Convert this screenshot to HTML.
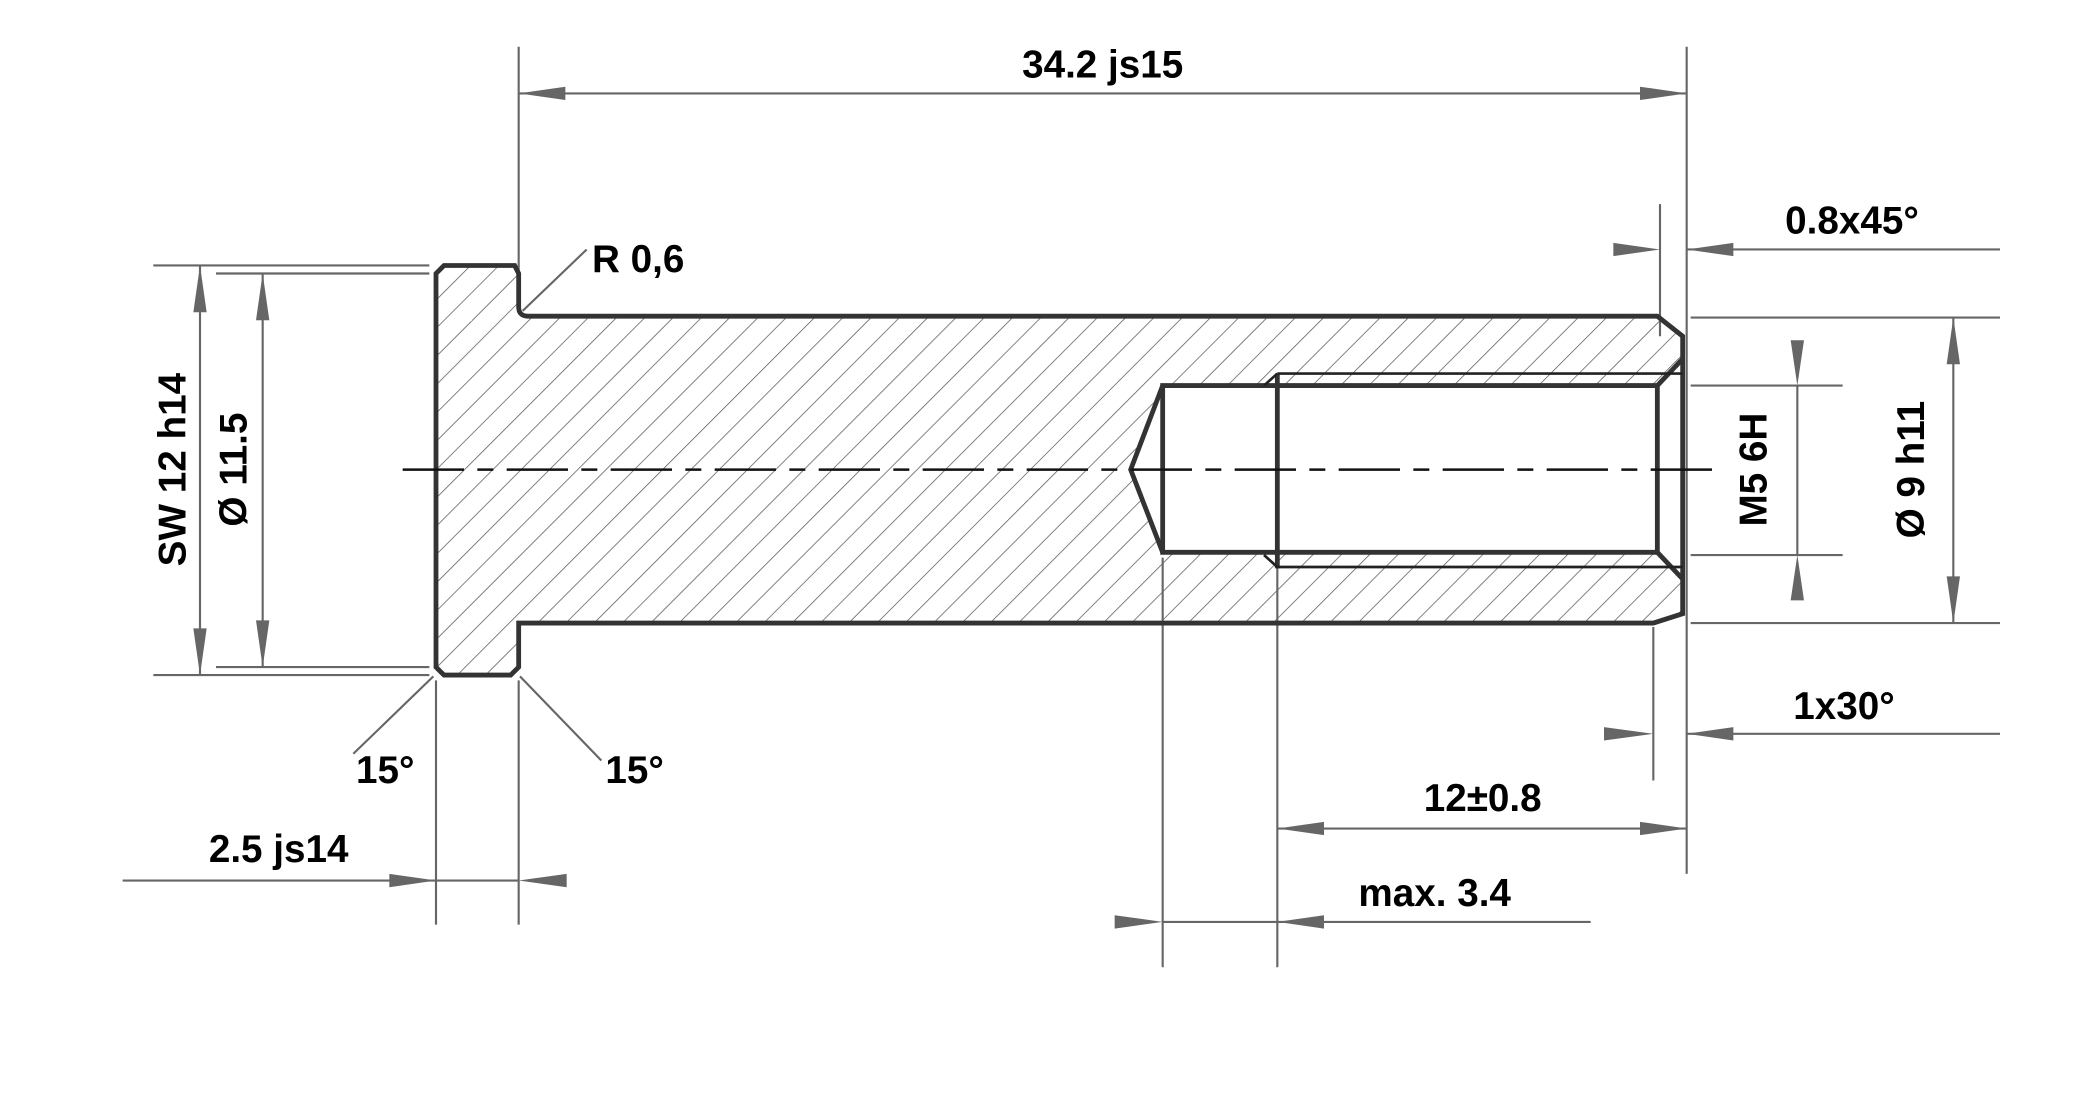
<!DOCTYPE html>
<html><head><meta charset="utf-8"><style>
html,body{margin:0;padding:0;background:#fff;}
svg{display:block;}
text{font-family:"Liberation Sans",Arial,sans-serif;font-weight:bold;font-size:29px;fill:#000;}
</style></head><body>
<svg width="2088" height="1094" viewBox="0 0 1566 820" preserveAspectRatio="none" xmlns="http://www.w3.org/2000/svg">
<defs>
<pattern id="h" patternUnits="userSpaceOnUse" width="15" height="15" patternTransform="rotate(45)">
<line x1="0" y1="0" x2="0" y2="15" stroke="#555" stroke-width="1.1"/>
</pattern>
<clipPath id="c"><path clip-rule="evenodd" d="M327,205 L333,199 L389,199 L389,230 Q389,237 396,237 L1243,237 L1262,252 L1262,460 L1240,467 L389,467 L389,500 L383,506 L333,506 L327,500 Z M872,289 L1243,289 L1262,270 L1262,436 L1243,414 L872,414 L848,352 Z"/></clipPath>
</defs>
<g clip-path="url(#c)"><rect x="300" y="190" width="1000" height="330" fill="url(#h)"/></g>

<g stroke="#666" stroke-width="1.6" fill="none">
<line x1="389" y1="35" x2="389" y2="230"/>
<line x1="1265" y1="35" x2="1265" y2="655"/>
<line x1="389" y1="70" x2="1265" y2="70"/>
<line x1="392" y1="233" x2="440" y2="187"/>
<line x1="1245" y1="153" x2="1245" y2="252"/>
<line x1="1265" y1="187" x2="1500" y2="187"/>
<line x1="1240" y1="470" x2="1240" y2="585"/>
<line x1="1265" y1="550" x2="1500" y2="550"/>
<line x1="1268" y1="238" x2="1500" y2="238"/>
<line x1="1268" y1="467" x2="1500" y2="467"/>
<line x1="1465" y1="238" x2="1465" y2="467"/>
<line x1="1268" y1="289" x2="1382" y2="289"/>
<line x1="1268" y1="416" x2="1382" y2="416"/>
<line x1="1348" y1="289" x2="1348" y2="416"/>
<line x1="115" y1="199" x2="322" y2="199"/>
<line x1="115" y1="506" x2="322" y2="506"/>
<line x1="150" y1="199" x2="150" y2="506"/>
<line x1="162" y1="205" x2="322" y2="205"/>
<line x1="162" y1="500" x2="322" y2="500"/>
<line x1="197" y1="205" x2="197" y2="500"/>
<line x1="325" y1="507" x2="265" y2="565"/>
<line x1="390" y1="507" x2="451" y2="570"/>
<line x1="327" y1="510" x2="327" y2="693"/>
<line x1="389" y1="510" x2="389" y2="693"/>
<line x1="92" y1="660" x2="389" y2="660"/>
<line x1="958" y1="420" x2="958" y2="725"/>
<line x1="872" y1="418" x2="872" y2="725"/>
<line x1="958" y1="621" x2="1265" y2="621"/>
<line x1="872" y1="691" x2="1193" y2="691"/>
</g>
<g fill="#666">
<polygon points="389,70 424,65 424,75"/>
<polygon points="1265,70 1230,65 1230,75"/>
<polygon points="1245,187 1210,182 1210,192"/>
<polygon points="1265,187 1300,182 1300,192"/>
<polygon points="1240,550 1203,545 1203,555"/>
<polygon points="1265,550 1300,545 1300,555"/>
<polygon points="1465,238 1460,273 1470,273"/>
<polygon points="1465,467 1460,432 1470,432"/>
<polygon points="1348,289 1343,255 1353,255"/>
<polygon points="1348,416 1343,450 1353,450"/>
<polygon points="150,199 145,234 155,234"/>
<polygon points="150,506 145,471 155,471"/>
<polygon points="197,205 192,240 202,240"/>
<polygon points="197,500 192,465 202,465"/>
<polygon points="327,660 292,655 292,665"/>
<polygon points="389,660 425,655 425,665"/>
<polygon points="958,621 993,616 993,626"/>
<polygon points="1265,621 1230,616 1230,626"/>
<polygon points="872,691 836,686 836,696"/>
<polygon points="958,691 993,686 993,696"/>
</g>

<g stroke="#333" stroke-width="3.6" fill="none" stroke-linejoin="miter">
<path d="M389,230 L389,205 L386,199 L333,199 L327,205 L327,500 L333,506 L383,506 L389,500 L389,467 L1240,467 L1262,460 L1262,252 L1243,237 L396,237 Q389,237 389,230"/>
<path d="M872,289 L1243,289 L1243,414 L872,414 Z"/>
<path d="M872,289 L848,352 L872,414"/>
<line x1="958" y1="280" x2="958" y2="426"/>
<path d="M1243,289 L1262,269"/>
<path d="M1243,414 L1262,434"/>
</g>
<g stroke="#222" stroke-width="2" fill="none">
<line x1="958" y1="280" x2="1262" y2="280"/>
<line x1="958" y1="425" x2="1262" y2="425"/>
<line x1="958" y1="280" x2="948" y2="289"/>
<line x1="958" y1="425" x2="948" y2="416"/>
</g>
<line x1="302" y1="352" x2="1290" y2="352" stroke="#111" stroke-width="1.8" stroke-dasharray="46,10,12,10"/>

<text x="827" y="58" text-anchor="middle">34.2 js15</text>
<text x="444" y="204">R 0,6</text>
<text x="1389" y="175" text-anchor="middle">0.8x45°</text>
<text x="1383" y="539" text-anchor="middle">1x30°</text>
<text x="1112" y="608" text-anchor="middle">12±0.8</text>
<text x="1076" y="679" text-anchor="middle">max. 3.4</text>
<text x="209" y="646" text-anchor="middle">2.5 js14</text>
<text x="267" y="587">15°</text>
<text x="454" y="587">15°</text>
<text transform="translate(1325,352) rotate(-90)" text-anchor="middle">M5 6H</text>
<text transform="translate(1443,352) rotate(-90)" text-anchor="middle">Ø 9 h11</text>
<text transform="translate(139,352) rotate(-90)" text-anchor="middle">SW 12 h14</text>
<text transform="translate(185,352) rotate(-90)" text-anchor="middle">Ø 11.5</text>
</svg>
</body></html>
